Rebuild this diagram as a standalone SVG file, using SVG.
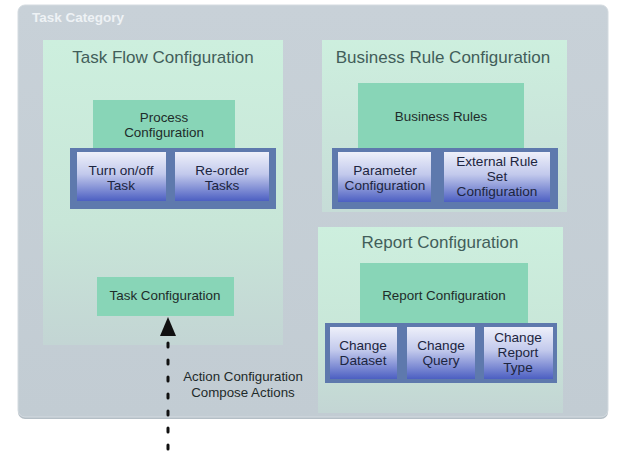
<svg xmlns="http://www.w3.org/2000/svg" width="633" height="460" viewBox="0 0 633 460">
<defs>
<linearGradient id="panel" x1="0" y1="0" x2="0" y2="1">
<stop offset="0" stop-color="#cdefde"/>
<stop offset="0.6" stop-color="#c8e6d8"/>
<stop offset="1" stop-color="#c3d5d4"/>
</linearGradient>
<linearGradient id="panel2" x1="0" y1="0" x2="0" y2="1">
<stop offset="0" stop-color="#cdefde"/>
<stop offset="1" stop-color="#c6dcd7"/>
</linearGradient>
<linearGradient id="btn" x1="0" y1="0" x2="0" y2="1">
<stop offset="0" stop-color="#eef0fa"/>
<stop offset="0.45" stop-color="#c2c9ec"/>
<stop offset="1" stop-color="#4c5fc2"/>
</linearGradient>
<linearGradient id="outer" x1="0" y1="0" x2="0" y2="1">
<stop offset="0" stop-color="#c8d1d8"/>
<stop offset="1" stop-color="#c2ccd3"/>
</linearGradient>
</defs>
<style>
.title{font-family:"Liberation Sans",Arial,sans-serif;font-size:17px;fill:#425e5a;text-anchor:middle}
.lbl{font-family:"Liberation Sans",Arial,sans-serif;font-size:13.4px;fill:#1e2c2a;text-anchor:middle}
.btxt{font-family:"Liberation Sans",Arial,sans-serif;font-size:13.6px;fill:#1c2540;text-anchor:middle}
.note{font-family:"Liberation Sans",Arial,sans-serif;font-size:13.3px;fill:#1e2a2a;text-anchor:middle}
.panel{fill:url(#panel)}
.panel2{fill:url(#panel2)}
.inner{fill:#88d5b7}
.bar{fill:#5e79ad}
.btn{fill:url(#btn)}
</style>
<rect width="633" height="460" fill="#ffffff"/>
<g id="task-category">
<rect x="18" y="6" width="590" height="413" rx="7" fill="#b4bec6"/>
<rect x="18" y="5" width="590" height="412" rx="7" fill="url(#outer)" stroke="#d4dbe0" stroke-width="1"/>
<text x="32" y="22" font-family="Liberation Sans,Arial,sans-serif" font-size="13.5" font-weight="bold" fill="#eef2f5">Task Category</text>
</g>
<g id="task-flow-configuration">
<rect class="panel" x="43" y="40" width="240" height="305"/>
<text class="title" x="163" y="63">Task Flow Configuration</text>
</g>
<g id="process-configuration">
<rect class="inner" x="93" y="100" width="142" height="49"/>
<text class="lbl" x="164" y="122">Process</text>
<text class="lbl" x="164" y="137">Configuration</text>
</g>
<g id="process-bar">
<rect class="bar" x="70" y="148" width="206" height="61"/>
</g>
<g id="turn-on-off-task">
<rect class="btn" x="77" y="152" width="89" height="49"/>
<text class="btxt" x="121" y="175">Turn on/off</text>
<text class="btxt" x="121" y="190">Task</text>
</g>
<g id="re-order-tasks">
<rect class="btn" x="175" y="152" width="94" height="49"/>
<text class="btxt" x="222" y="175">Re-order</text>
<text class="btxt" x="222" y="190">Tasks</text>
</g>
<g id="task-configuration">
<rect class="inner" x="97" y="277" width="137" height="39"/>
<text class="lbl" x="165" y="300">Task Configuration</text>
</g>
<g id="business-rule-configuration">
<rect class="panel2" x="322" y="40" width="245" height="172"/>
<text class="title" x="443" y="63">Business Rule Configuration</text>
</g>
<g id="business-rules">
<rect class="inner" x="358" y="83" width="166" height="66"/>
<text class="lbl" x="441" y="121">Business Rules</text>
</g>
<g id="business-bar">
<rect class="bar" x="332" y="148" width="226" height="61"/>
</g>
<g id="parameter-configuration">
<rect class="btn" x="338" y="152" width="93" height="50"/>
<text class="btxt" x="385" y="175">Parameter</text>
<text class="btxt" x="385" y="190">Configuration</text>
</g>
<g id="external-rule-set-configuration">
<rect class="btn" x="444" y="152" width="106" height="50"/>
<text class="btxt" x="497" y="166">External Rule</text>
<text class="btxt" x="497" y="181">Set</text>
<text class="btxt" x="497" y="196">Configuration</text>
</g>
<g id="report-configuration-panel">
<rect class="panel" x="318" y="227" width="245" height="186"/>
<text class="title" x="440" y="248">Report Configuration</text>
</g>
<g id="report-configuration">
<rect class="inner" x="360" y="263" width="168" height="61"/>
<text class="lbl" x="444" y="300">Report Configuration</text>
</g>
<g id="report-bar">
<rect class="bar" x="325" y="323" width="232" height="60"/>
</g>
<g id="change-dataset">
<rect class="btn" x="330" y="327" width="67" height="52"/>
<text class="btxt" x="363" y="350">Change</text>
<text class="btxt" x="363" y="365">Dataset</text>
</g>
<g id="change-query">
<rect class="btn" x="407" y="327" width="68" height="52"/>
<text class="btxt" x="441" y="350">Change</text>
<text class="btxt" x="441" y="365">Query</text>
</g>
<g id="change-report-type">
<rect class="btn" x="484" y="327" width="69" height="52"/>
<text class="btxt" x="518" y="342">Change</text>
<text class="btxt" x="518" y="357">Report</text>
<text class="btxt" x="518" y="372">Type</text>
</g>
<g id="connectors">
<line x1="168" y1="343" x2="168" y2="460" stroke="#111" stroke-width="3" stroke-linecap="round" stroke-dasharray="4 13"/>
<polygon points="168,317 160,336 176,336" fill="#111"/>
</g>
<g id="connector-label">
<text class="note" x="243" y="381">Action Configuration</text>
<text class="note" x="243" y="397">Compose Actions</text>
</g>
</svg>
